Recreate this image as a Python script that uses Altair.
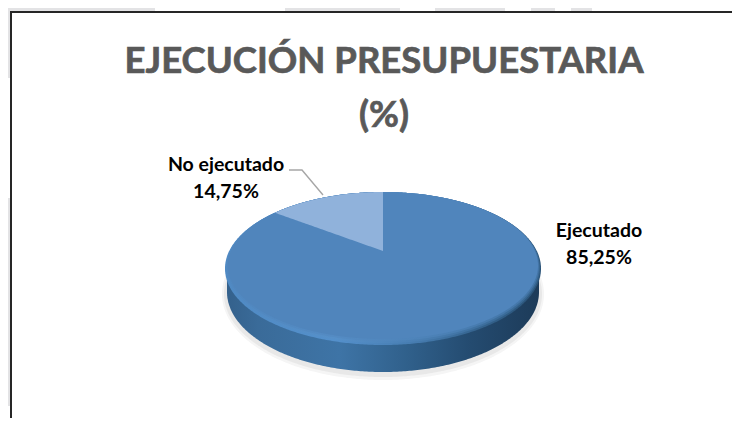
import numpy as np
import pandas as pd
import altair as alt

# ---- data ----
categories = ["Ejecutado", "No ejecutado"]
shares = [85.25, 14.75]
title_lines = ["EJECUCIÓN PRESUPUESTARIA", "(%)"]

# ---- layout (page pixels) ----
PAGE_X = [8, 732]
PAGE_Y = [418, 8]
CX, APEX_Y = 383, 251
TOP_Y, BOT_Y, RX = 192, 345, 158
YC, RY = (TOP_Y + BOT_Y) / 2, (BOT_Y - TOP_Y) / 2
K = ((BOT_Y - APEX_Y) - (APEX_Y - TOP_Y)) / ((BOT_Y - APEX_Y) + (APEX_Y - TOP_Y))
H = (APEX_Y - TOP_Y) * (1 + K)
S = RX * np.sqrt(1 - K * K)

x_scale = alt.Scale(domain=PAGE_X, nice=False, zero=False)
y_scale = alt.Scale(domain=PAGE_Y, nice=False, zero=False)
X = alt.X("x:Q", scale=x_scale, axis=None)
Y = alt.Y("y:Q", scale=y_scale, axis=None)


def grid(cx, rx, lo=None, hi=None):
    a = np.linspace(np.pi, 0, 241)
    xs = cx + rx * np.cos(a)
    if lo is not None:
        xs = np.unique(np.concatenate([[lo, hi], xs[(xs > lo) & (xs < hi)]]))
    return xs


def half(xs, cx, rx, yc, ry, sign):
    t = np.clip((xs - cx) / rx, -1, 1)
    return yc + sign * ry * np.sqrt(1 - t * t)


def ellipse(cx, rx, yc, ry, fill, opacity=1.0):
    xs = grid(cx, rx)
    df = pd.DataFrame({"x": xs, "y": half(xs, cx, rx, yc, ry, -1), "y2": half(xs, cx, rx, yc, ry, 1)})
    return alt.Chart(df).mark_area(color=fill, opacity=opacity, orient="vertical", interpolate="linear").encode(
        X, Y, y2="y2:Q"
    )


def hgrad(stops):
    return alt.Gradient(
        gradient="linear", x1=0, x2=1, y1=0, y2=0,
        stops=[alt.GradientStop(color=c, offset=o) for o, c in stops],
    )


# shadow
shadow1 = ellipse(CX, 161, 294, 86, "#F5F5F5")
shadow2 = ellipse(CX, 159, 294, 83, "#E8E8E8")

# pie wall
wall_x = grid(CX, 156)
wall = alt.Chart(pd.DataFrame({
    "x": wall_x,
    "y": np.full_like(wall_x, YC),
    "y2": half(wall_x, CX, 156, 292, 80, 1),
})).mark_area(
    color=hgrad([(0, "#34618C"), (0.1, "#3A6B99"), (0.36, "#3E74A6"), (0.58, "#30608B"),
                 (0.78, "#244B70"), (1, "#1D3B59")]),
    orient="vertical",
).encode(X, Y, y2="y2:Q")

# bevelled rim (soft, three steps) and top face
rim = ellipse(CX, RX, YC, RY, hgrad([(0, "#4F8AC4"), (0.35, "#5490CB"), (0.6, "#467CB0"),
                                     (0.82, "#33618B"), (1, "#2A5378")]))
rim_mid = ellipse(CX, RX - 1, YC - 1, RY - 1, hgrad([(0, "#5089C2"), (0.35, "#5690C9"), (0.6, "#4A80B5"),
                                                     (0.82, "#3D6F9E"), (1, "#376691")]))
rim_in = ellipse(CX, RX - 2, YC - 2, RY - 2, hgrad([(0, "#5087BF"), (0.35, "#548BC3"), (0.6, "#4E84BA"),
                                                    (0.82, "#477BAE"), (1, "#4476A8")]))
face = ellipse(CX, RX - 3, YC - 3, RY - 3, "#5085BC")

# small slice: measured clockwise back from twelve o'clock
theta = 2 * np.pi * shares[1] / sum(shares)
u, v = np.sin(theta), np.cos(theta)
w = 1 + K * v
edge_x = CX - S * u / w
edge_y = APEX_Y - H * v / w
slice_x = grid(CX, RX, edge_x, CX)
slice_df = pd.DataFrame({
    "x": slice_x,
    "y": half(slice_x, CX, RX, YC, RY, -1),
    "y2": APEX_Y + (edge_y - APEX_Y) * (CX - slice_x) / (CX - edge_x),
})
small = alt.Chart(slice_df).mark_area(color="#90B2DB", orient="vertical").encode(X, Y, y2="y2:Q")

# leader line
leader = alt.Chart(pd.DataFrame({"x": [289, 302, 323], "y": [170, 170, 195]})).mark_line(
    color="#A6A6A6", strokeWidth=1.4
).encode(X, Y)

# watermark patches and frame
patches = pd.DataFrame({
    "x": [8, 285, 435, 531, 571, 8, 8],
    "x2": [155, 400, 505, 555, 592, 10, 10],
    "y": [8, 8, 8, 8, 8, 8, 198],
    "y2": [11, 11, 11, 11, 11, 78, 406],
})
wm = alt.Chart(patches).mark_rect(color="#E3E3E5").encode(X, Y, x2="x2:Q", y2="y2:Q")

frame_v = alt.Chart(pd.DataFrame({"x": [11], "y": [12], "y2": [418]})).mark_rule(
    color="#262626", strokeWidth=2
).encode(X, Y, y2="y2:Q")
frame_h = alt.Chart(pd.DataFrame({"x": [10], "x2": [732], "y": [12]})).mark_rule(
    color="#262626", strokeWidth=2
).encode(X, Y, x2="x2:Q")

# texts
title_df = pd.DataFrame({"x": [384, 384], "y": [73, 127], "t": title_lines})
title = alt.Chart(title_df).mark_text(
    font="Lato", fontWeight="bold", fontSize=36.5, color="#595959", stroke="#595959", strokeWidth=0.7,
    align="center", baseline="alphabetic"
).encode(X, Y, text="t:N")


def pct(v):
    return f"{v:.2f}".replace(".", ",") + "%"


label_df = pd.DataFrame({
    "x": [599, 599, 226, 226],
    "y": [237, 264, 171, 198],
    "t": [categories[0], pct(shares[0]), categories[1], pct(shares[1])],
})
labels = alt.Chart(label_df).mark_text(
    font="Lato", fontWeight="bold", fontSize=19.5, color="#000000", align="center", baseline="alphabetic"
).encode(X, Y, text="t:N")

chart = alt.layer(
    wm, frame_v, frame_h, shadow1, shadow2, wall, rim, rim_mid, rim_in, face, small, leader, title, labels
).properties(
    width=724, height=410, padding=0,
    autosize=alt.AutoSizeParams(type="none"),
    background="#FFFFFF",
).configure_view(stroke=None)

chart.save("out.html", embed_options={"renderer": "svg", "actions": False})
